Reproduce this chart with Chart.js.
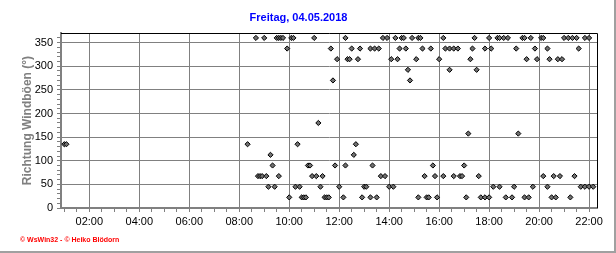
<!DOCTYPE html>
<html>
<head>
<meta charset="utf-8">
<script src="https://cdn.jsdelivr.net/npm/chart.js@4.4.1/dist/chart.umd.min.js"></script>
<style>
  html, body { margin: 0; padding: 0; background: #fff; }
  #wrap { position: relative; width: 616px; height: 253px; box-sizing: border-box;
          border-right: 2px solid #a0a0a0; border-bottom: 2px solid #a0a0a0; }
  #footer { position: absolute; left: 20px; top: 236px; font: bold 7px "Liberation Sans", Arial, sans-serif;
            color: #ff0000; white-space: nowrap; }
</style>
</head>
<body>
<div id="wrap">
  <canvas id="chart" width="614" height="251"></canvas>
  <div id="footer">© WsWin32 - © Heiko Blödorn</div>
</div>
<script>
const chartTitle = 'Freitag, 04.05.2018';
const yTitle = 'Richtung Windböen (°)';

// gust direction readings (time of day, degrees)
const times = [
  '01:00','01:05','08:20','08:40','08:45','08:50','08:55','09:00','09:05','09:10',
  '09:15','09:20','09:25','09:30','09:35','09:35','09:40','09:45','09:55','10:00',
  '10:05','10:10','10:15','10:20','10:25','10:30','10:35','10:40','10:45','10:50',
  '10:55','11:00','11:05','11:10','11:15','11:20','11:25','11:30','11:35','11:40',
  '11:45','11:50','11:55','12:00','12:10','12:15','12:15','12:20','12:25','12:30',
  '12:35','12:40','12:45','12:50','12:55','13:00','13:05','13:15','13:15','13:20',
  '13:25','13:30','13:35','13:40','13:45','13:50','13:55','14:00','14:05','14:10',
  '14:15','14:20','14:25','14:30','14:35','14:40','14:45','14:50','14:55','15:05',
  '15:10','15:10','15:15','15:20','15:25','15:30','15:35','15:40','15:45','15:50',
  '15:55','16:00','16:10','16:10','16:15','16:25','16:25','16:35','16:35','16:45',
  '16:50','16:55','17:00','17:05','17:10','17:15','17:20','17:25','17:30','17:35',
  '17:40','17:50','17:50','18:00','18:00','18:05','18:10','18:20','18:25','18:25',
  '18:35','18:40','18:45','18:55','19:00','19:05','19:10','19:20','19:25','19:25',
  '19:30','19:35','19:40','19:45','19:50','19:55','20:05','20:10','20:10','20:20',
  '20:20','20:25','20:30','20:35','20:40','20:45','20:50','20:55','21:00','21:10',
  '21:15','21:20','21:25','21:30','21:35','21:40','21:50','21:50','22:00','22:00',
  '22:10'
];
const directions = [
  135, 135, 135, 360, 67.5, 67.5, 67.5, 360, 67.5, 45,
  112.5, 90, 45, 360, 360, 67.5, 360, 360, 337.5, 22.5,
  360, 360, 45, 135, 45, 22.5, 22.5, 22.5, 90, 90,
  67.5, 360, 67.5, 180, 45, 67.5, 22.5, 22.5, 22.5, 337.5,
  270, 90, 315, 45, 22.5, 360, 90, 315, 315, 337.5,
  112.5, 135, 315, 337.5, 22.5, 45, 45, 337.5, 22.5, 90,
  337.5, 22.5, 337.5, 67.5, 360, 67.5, 360, 45, 315, 45,
  360, 315, 337.5, 360, 360, 337.5, 292.5, 270, 360, 315,
  360, 22.5, 360, 337.5, 67.5, 22.5, 22.5, 337.5, 90, 67.5,
  22.5, 315, 360, 67.5, 337.5, 337.5, 292.5, 337.5, 67.5, 337.5,
  67.5, 67.5, 90, 22.5, 157.5, 315, 337.5, 360, 292.5, 67.5,
  22.5, 337.5, 22.5, 360, 22.5, 337.5, 45, 360, 360, 45,
  360, 22.5, 360, 22.5, 45, 337.5, 157.5, 360, 360, 22.5,
  315, 22.5, 360, 45, 337.5, 315, 360, 360, 67.5, 337.5,
  45, 315, 22.5, 67.5, 22.5, 315, 67.5, 315, 360, 360,
  22.5, 360, 67.5, 360, 337.5, 45, 360, 45, 360, 45,
  45
];

const xLabels = ['02:00','04:00','06:00','08:00','10:00','12:00','14:00','16:00','18:00','20:00','22:00'];
const yLabels = [0, 50, 100, 150, 200, 250, 300, 350];

function toMin(t) {
  const p = t.split(':');
  return parseInt(p[0]) * 60 + parseInt(p[1]);
}
function fmt(m) {
  const h = Math.floor(m / 60);
  return (h < 10 ? '0' : '') + h + ':00';
}

const points = times.map((t, i) => ({ x: toMin(t), y: directions[i] }));
const majorX = xLabels.map(toMin);

Chart.defaults.font.family = '"Liberation Sans", Arial, sans-serif';
Chart.defaults.font.size = 11;
Chart.defaults.color = '#000';

const frame = {
  id: 'frame',
  beforeDatasetsDraw(chart) {
    const { ctx, chartArea: a } = chart;
    ctx.save();
    ctx.strokeStyle = '#000';
    ctx.lineWidth = 1;
    ctx.beginPath();
    ctx.moveTo(a.left, Math.round(a.top) + 0.5);
    ctx.lineTo(Math.round(a.right) + 0.5, Math.round(a.top) + 0.5);
    ctx.lineTo(Math.round(a.right) + 0.5, a.bottom);
    ctx.stroke();
    ctx.restore();
  }
};

const ctx = document.getElementById('chart').getContext('2d');
new Chart(ctx, {
  type: 'scatter',
  data: {
    datasets: [{
      data: points,
      pointStyle: 'rectRot',
      pointRadius: 2.6,
      backgroundColor: '#707070',
      borderColor: '#000',
      borderWidth: 1
    }]
  },
  options: {
    responsive: false,
    animation: false,
    layout: { padding: { left: 0, right: 17, top: 0, bottom: 0 } },
    plugins: {
      legend: { display: false },
      tooltip: { enabled: false },
      title: {
        display: true,
        text: chartTitle,
        color: '#0000ff',
        font: { size: 11, weight: 'bold' },
        padding: { top: 11, bottom: 9 }
      }
    },
    scales: {
      x: {
        type: 'linear',
        min: 52,
        max: 1339,
        afterBuildTicks: s => {
          const t = [];
          for (let v = 60; v <= 1320; v += 30) t.push({ value: v });
          s.ticks = t;
        },
        afterFit: s => { s.height = 43; },
        ticks: {
          autoSkip: false,
          maxRotation: 0,
          padding: 3,
          callback: v => majorX.includes(v) ? fmt(v) : ''
        },
        grid: {
          color: c => c.tick && majorX.includes(c.tick.value) ? '#808080' : 'rgba(0,0,0,0)',
          borderDash: [4, 3],
          tickColor: '#808080',
          tickBorderDash: [],
          tickLength: 4
        },
        border: { color: '#808080', width: 2 }
      },
      y: {
        min: 0,
        max: 370,
        afterBuildTicks: s => {
          const t = [];
          for (let v = 0; v <= 360; v += 10) t.push({ value: v });
          s.ticks = t;
        },
        afterFit: s => { s.width = 61; },
        ticks: {
          autoSkip: false,
          padding: 4,
          callback: v => yLabels.includes(v) ? String(v) : ''
        },
        grid: {
          color: c => c.tick && c.tick.value > 0 && yLabels.includes(c.tick.value) ? '#808080' : 'rgba(0,0,0,0)',
          borderDash: [4, 3],
          tickColor: '#808080',
          tickBorderDash: [],
          tickLength: 4
        },
        border: { color: '#808080', width: 2 },
        title: {
          display: true,
          text: yTitle,
          color: '#808080',
          font: { size: 12, weight: 'bold' },
          padding: { top: 20 }
        }
      }
    }
  },
  plugins: [frame]
});
</script>
</body>
</html>
